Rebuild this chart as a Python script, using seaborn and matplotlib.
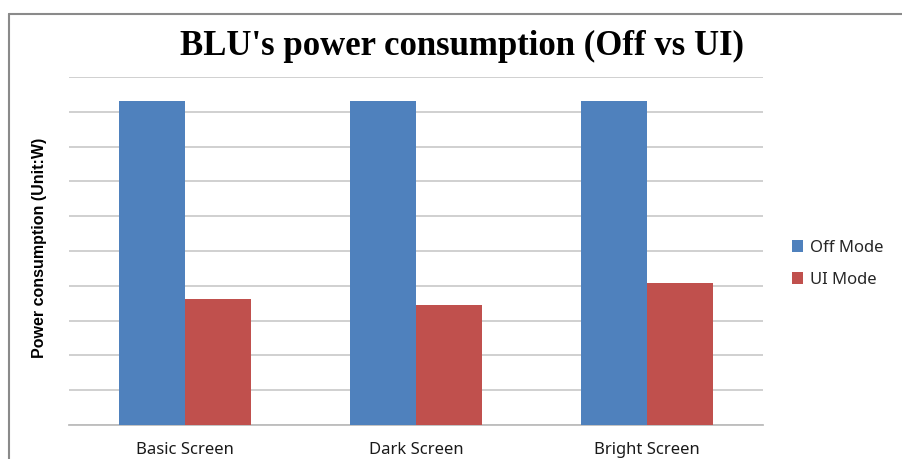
import numpy as np
import pandas as pd
from matplotlib import pyplot as plt
from matplotlib.lines import Line2D
import seaborn as sns

# values (gridlines carry no labels, 10 steps)
screens = ['Basic Screen', 'Dark Screen', 'Bright Screen']
off_mode = [9.31, 9.31, 9.31]
ui_mode = [3.62, 3.44, 4.08]
modes = ['Off Mode', 'UI Mode']
colors = ['#4F81BD', '#C0504D']

df = pd.DataFrame({
    'screen': screens * 2,
    'mode': [modes[0]] * 3 + [modes[1]] * 3,
    'power': off_mode + ui_mode,
})

sns.set_style('white')
plt.rcParams['font.family'] = ['Noto Sans', 'DejaVu Sans']

fig = plt.figure(figsize=(9.03, 4.59), dpi=100)
ax = fig.add_axes([69 / 903, 1 - 425 / 459, 694 / 903, 348 / 459])

sns.barplot(data=df, x='screen', y='power', hue='mode', palette=colors,
            width=0.571, gap=0, saturation=1, linewidth=0, ax=ax, zorder=3)

ax.set_ylim(0, 10)
ax.set_xlim(-0.5, 2.5)
ax.set_yticks(np.arange(0, 11, 1))
ax.set_yticklabels([])
ax.grid(axis='y', color='#C4C4C4', linewidth=1.1, zorder=0)
ax.tick_params(axis='both', length=0)
ax.tick_params(axis='x', labelsize=12, pad=12, colors='#1a1a1a')
for s in ['top', 'right', 'left']:
    ax.spines[s].set_visible(False)
ax.spines['bottom'].set_color('#BDBDBD')
ax.spines['bottom'].set_linewidth(1.3)
ax.set_xlabel('')
ax.set_ylabel('Power consumption (Unit:W)', fontsize=11.5, fontweight='bold',
              color='black', family='Liberation Sans')
ax.yaxis.set_label_coords((47 - 69) / 694, 0.51)

ax.legend(loc='center left', bbox_to_anchor=(785 / 903, 1 - 264 / 459),
          bbox_transform=fig.transFigure, frameon=False, fontsize=12,
          handlelength=0.7, handleheight=0.7, handletextpad=0.4,
          labelspacing=0.95, borderaxespad=0)

fig.text(462 / 903, 1 - 46 / 459, "BLU's power consumption (Off vs UI)",
         ha='center', va='center', fontsize=25, fontweight='bold',
         family='Liberation Serif', color='black')

# chart frame (cropped at right and bottom)
fig.add_artist(Line2D([8.5 / 903, 8.5 / 903], [0, 1 - 13.5 / 459],
                      color='#8A8A8A', linewidth=1.5))
fig.add_artist(Line2D([8.5 / 903, 1], [1 - 13.5 / 459, 1 - 13.5 / 459],
                      color='#8A8A8A', linewidth=1.5))

fig.savefig('out.png', dpi=100)
